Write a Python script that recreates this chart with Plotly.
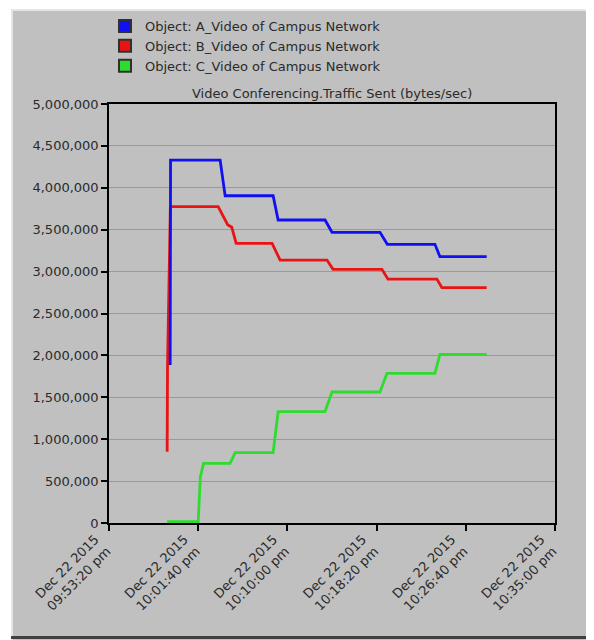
import pandas as pd
import plotly.graph_objects as go

# ---------------- data ----------------
start_time = "2015-12-22 21:53:20"

# Object A (blue): seconds after start, bytes/sec
a_sec = [343, 345, 623, 651, 920, 948, 1211, 1250, 1519, 1560, 1827, 1855, 2117]
a_val = [1885000, 4330000, 4330000, 3905000, 3905000, 3616000, 3616000, 3469000,
         3469000, 3326000, 3326000, 3178000, 3178000]

# Object B (red)
b_sec = [326, 328, 344, 612, 665, 688, 713, 914, 959, 1222, 1256, 1530, 1564, 1838, 1866, 2117]
b_val = [851000, 1880000, 3775000, 3775000, 3560000, 3530000, 3338000, 3338000, 3138000,
         3138000, 3027000, 3027000, 2910000, 2910000, 2808000, 2808000]

# Object C (green)
c_sec = [326, 500, 512, 530, 679, 707, 920, 948, 1211, 1250, 1519, 1558, 1827, 1855, 2117]
c_val = [15000, 15000, 550000, 712000, 712000, 839000, 839000, 1328000, 1328000,
         1563000, 1563000, 1786000, 1786000, 2013000, 2013000]

series_names = ["Object: A_Video of Campus Network",
                "Object: B_Video of Campus Network",
                "Object: C_Video of Campus Network"]

tick_sec = [0, 500, 1000, 1500, 2000, 2500]
tick_text = ["Dec 22 2015<br>09:53:20 pm", "Dec 22 2015<br>10:01:40 pm",
             "Dec 22 2015<br>10:10:00 pm", "Dec 22 2015<br>10:18:20 pm",
             "Dec 22 2015<br>10:26:40 pm", "Dec 22 2015<br>10:35:00 pm"]

title_text = "Video Conferencing.Traffic Sent (bytes/sec)"

# ---------------- helpers ----------------
t0 = pd.Timestamp(start_time)


def to_time(secs):
    return [t0 + pd.Timedelta(seconds=s) for s in secs]


OFF = 8                      # page body margin
W_PX, H_PX = 594 - OFF, 640 - OFF
L, R, T, B = 109, 555, 104, 523   # plot area in page pixels
PW, PH = R - L, B - T


def px2x(px):
    return (px - L) / PW


def py2y(py):
    return (B - py) / PH


colors = ["#1010f0", "#e81414", "#2edc2e"]
FONT = "DejaVu Sans, Verdana, sans-serif"
TXT = "#2a2a2a"

fig = go.Figure()

# draw order: green, red, blue (blue on top)
line_data = [(a_sec, a_val), (b_sec, b_val), (c_sec, c_val)]
for idx in [2, 1, 0]:
    s, v = line_data[idx]
    fig.add_trace(go.Scatter(
        x=to_time(s), y=v, mode="lines",
        line=dict(color=colors[idx], width=2.8),
        showlegend=False, hoverinfo="skip"))

# legend entries (square swatches)
for idx in range(3):
    fig.add_trace(go.Scatter(
        x=[None], y=[None], mode="markers", name=series_names[idx],
        marker=dict(symbol="square", size=10, color=colors[idx],
                    line=dict(color="#303030", width=1)),
        legendrank=idx + 1))

shapes = [
    # gray panel
    dict(type="rect", xref="paper", yref="paper",
         x0=px2x(11), x1=px2x(591), y0=py2y(645), y1=py2y(9),
         fillcolor="#c0c0c0", line=dict(width=0), layer="below"),
    # light top/left edges
    dict(type="line", xref="paper", yref="paper",
         x0=px2x(11), x1=px2x(591), y0=py2y(10), y1=py2y(10),
         line=dict(color="#e6e6e6", width=2), layer="below"),
    dict(type="line", xref="paper", yref="paper",
         x0=px2x(12), x1=px2x(12), y0=py2y(645), y1=py2y(9),
         line=dict(color="#e6e6e6", width=2), layer="below"),
    # dark right/bottom edges
    dict(type="line", xref="paper", yref="paper",
         x0=px2x(590), x1=px2x(590), y0=py2y(645), y1=py2y(9),
         line=dict(color="#404040", width=2), layer="below"),
    dict(type="line", xref="paper", yref="paper",
         x0=px2x(11), x1=px2x(591), y0=py2y(637.5), y1=py2y(637.5),
         line=dict(color="#404040", width=3), layer="below"),
]

fig.update_layout(
    width=W_PX, height=H_PX,
    margin=dict(l=L - OFF, r=594 - R, t=T - OFF, b=640 - B, pad=0,
                autoexpand=False),
    paper_bgcolor="white",
    plot_bgcolor="#efefef",
    font=dict(family=FONT, size=13, color=TXT),
    shapes=shapes,
    showlegend=True,
    legend=dict(x=px2x(105), y=py2y(11), xanchor="left", yanchor="top",
                bgcolor="rgba(0,0,0,0)", font=dict(size=13, color=TXT),
                itemsizing="constant", tracegroupgap=0),
    annotations=[dict(text=title_text, x=px2x(332), xref="paper", xanchor="center",
                      y=py2y(93), yref="paper", yanchor="middle", showarrow=False,
                      font=dict(size=13, color=TXT, family=FONT))],
    xaxis=dict(
        type="date",
        range=[t0, t0 + pd.Timedelta(seconds=tick_sec[-1])],
        tickmode="array",
        tickvals=to_time(tick_sec),
        ticktext=tick_text,
        tickangle=-45,
        ticklabelshift=-14,
        ticklabelstandoff=-4,
        ticks="outside", ticklen=6, tickcolor="#000000", tickwidth=1.5,
        showline=True, linecolor="#000000", linewidth=1.5, mirror=True,
        showgrid=False, zeroline=False,
        tickfont=dict(size=13, color=TXT),
    ),
    yaxis=dict(
        range=[0, 5000000],
        dtick=500000, tick0=0,
        tickformat=",d",
        ticks="outside", ticklen=6, tickcolor="#000000", tickwidth=1.5,
        showline=True, linecolor="#000000", linewidth=1.5, mirror=True,
        showgrid=True, gridcolor="#9a9a9a", gridwidth=1,
        zeroline=False,
        tickfont=dict(size=13, color=TXT),
    ),
)

fig.write_html("out.html")
